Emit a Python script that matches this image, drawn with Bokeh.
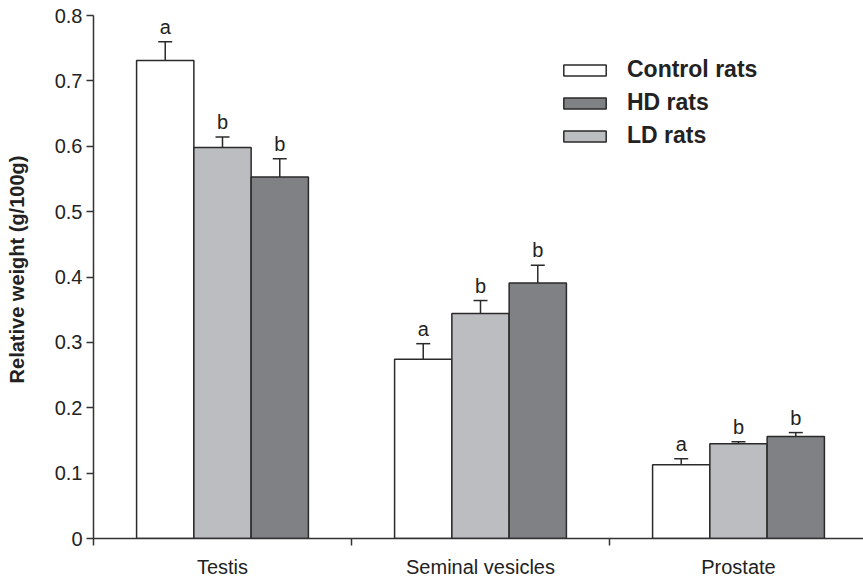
from bokeh.plotting import figure
from bokeh.models import (Range1d, FixedTicker, ColumnDataSource, Whisker, TeeHead,
                          Legend, LegendItem, LinearAxis)
from bokeh.core.properties import value
from bokeh.embed import file_html
from bokeh.resources import INLINE

categories = ["Testis", "Seminal vesicles", "Prostate"]
series_names = ["Control rats", "LD rats", "HD rats"]
control = [0.731, 0.274, 0.113]
control_err = [0.029, 0.024, 0.009]
ld = [0.598, 0.344, 0.145]
ld_err = [0.016, 0.020, 0.003]
hd = [0.553, 0.391, 0.156]
hd_err = [0.028, 0.027, 0.006]
control_letters = ["a", "a", "a"]
ld_letters = ["b", "b", "b"]
hd_letters = ["b", "b", "b"]
y_ticks = [0, 0.1, 0.2, 0.3, 0.4, 0.5, 0.6, 0.7, 0.8]

FONT = "Liberation Sans"
AX = "#333333"
TXT = "#222222"

p = figure(width=863, height=580, output_backend="svg", toolbar_location=None,
           x_range=Range1d(0, 770 / 258), y_range=Range1d(0, 0.8 + 15 / 653.75),
           min_border_left=93, min_border_right=0, min_border_top=0, min_border_bottom=42,
           x_axis_type=None, y_axis_type=None)
p.outline_line_color = None
p.xgrid.grid_line_color = None
p.ygrid.grid_line_color = None
p.background_fill_color = "white"

# y axis
yax = LinearAxis(ticker=FixedTicker(ticks=y_ticks, minor_ticks=[]))
yax.bounds = (0, 0.8)
yax.major_label_overrides = {0: "0"}
yax.axis_line_color = AX
yax.axis_line_width = 1.5
yax.major_tick_line_color = AX
yax.major_tick_line_width = 1.5
yax.major_tick_out = 7
yax.major_tick_in = 0
yax.minor_tick_line_color = None
yax.major_label_text_font = FONT
yax.major_label_text_font_size = "20px"
yax.major_label_text_color = TXT
yax.major_label_standoff = 4
yax.axis_label = "Relative weight (g/100g)"
yax.axis_label_text_font = FONT
yax.axis_label_text_font_style = "bold"
yax.axis_label_text_font_size = "20px"
yax.axis_label_text_color = TXT
yax.axis_label_standoff = 24
p.add_layout(yax, "left")

# x axis: labels at centres, tick marks at category boundaries
centers = [i + 0.5 for i in range(len(categories))]
bounds_ticks = [float(i) for i in range(len(categories) + 1)]
xax = LinearAxis(ticker=FixedTicker(ticks=centers, minor_ticks=bounds_ticks))
xax.major_label_overrides = {c: name for c, name in zip(centers, categories)}
xax.axis_line_color = AX
xax.axis_line_width = 1.5
xax.major_tick_line_color = None
xax.major_tick_out = 0
xax.minor_tick_line_color = AX
xax.minor_tick_line_width = 1.5
xax.minor_tick_out = 7
xax.minor_tick_in = 0
xax.major_label_text_font = FONT
xax.major_label_text_font_size = "20px"
xax.major_label_text_color = TXT
xax.major_label_standoff = 10
p.add_layout(xax, "below")

bw = 0.222
offsets = [-0.222, 0.0, 0.222]
colors = ["#ffffff", "#bcbdc1", "#808185"]
vals = [control, ld, hd]
errs = [control_err, ld_err, hd_err]
letters = [control_letters, ld_letters, hd_letters]

renderers = {}
for name, off, col, v, e, lt in zip(series_names, offsets, colors, vals, errs, letters):
    xs = [c + off for c in centers]
    src = ColumnDataSource(dict(x=xs, top=v, upper=[a + b for a, b in zip(v, e)], lower=v, letter=lt))
    r = p.vbar(x="x", top="top", width=bw, bottom=0, source=src,
               fill_color=col, line_color="#2a2a2a", line_width=1.5)
    renderers[name] = r
    w = Whisker(source=src, base="x", upper="upper", lower="lower", dimension="height",
                line_color="#2a2a2a", line_width=1.5,
                upper_head=TeeHead(size=14, line_color="#2a2a2a", line_width=1.5),
                lower_head=None)
    p.add_layout(w)
    p.text(x="x", y="upper", text="letter", source=src, text_align="center",
           text_baseline="bottom", y_offset=-4, text_font=value(FONT),
           text_font_size="20px", text_color=TXT)

legend = Legend(items=[LegendItem(label="Control rats", renderers=[renderers["Control rats"]]),
                       LegendItem(label="HD rats", renderers=[renderers["HD rats"]]),
                       LegendItem(label="LD rats", renderers=[renderers["LD rats"]])],
                location=(465, 389))
legend.border_line_color = None
legend.background_fill_alpha = 0
legend.padding = 0
legend.margin = 0
legend.spacing = 6
legend.glyph_width = 53
legend.glyph_height = 14
legend.label_height = 22
legend.label_standoff = 16
legend.label_text_font = FONT
legend.label_text_font_style = "bold"
legend.label_text_font_size = "23px"
legend.label_text_color = TXT
p.add_layout(legend)

open("out.html", "w").write(file_html(p, INLINE))
